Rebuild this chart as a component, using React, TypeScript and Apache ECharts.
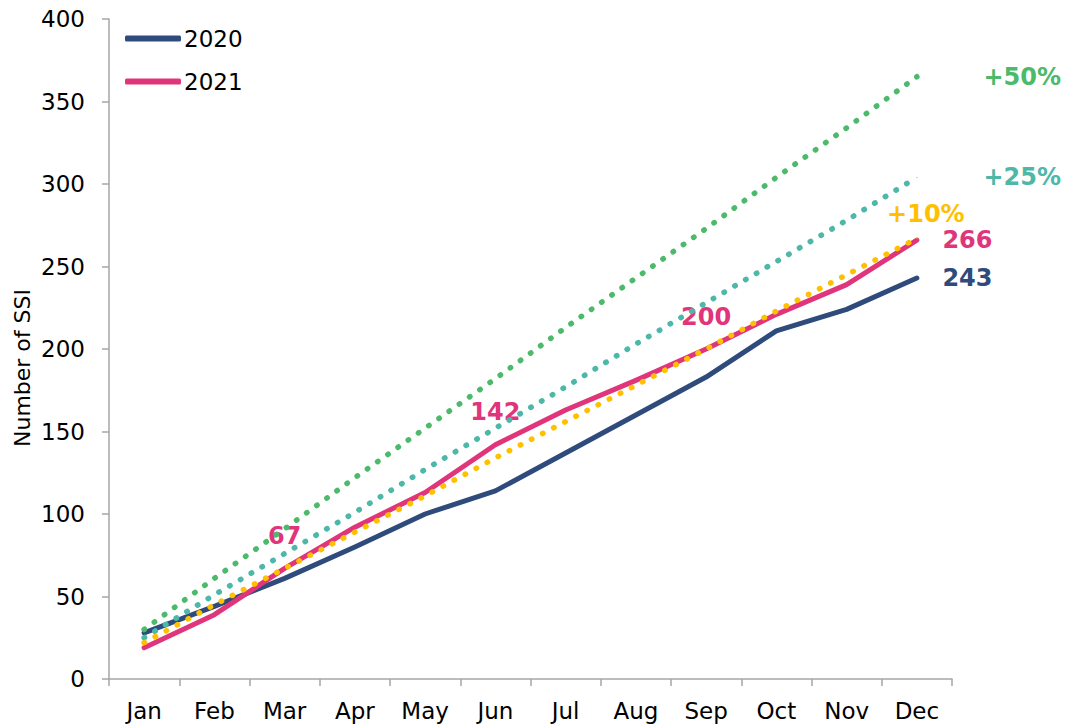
import React, { useEffect, useRef } from "react";
import * as echarts from "echarts";

// Months on the category axis
const months = ["Jan", "Feb", "Mar", "Apr", "May", "Jun", "Jul", "Aug", "Sep", "Oct", "Nov", "Dec"];

// Cumulative number of SSI per year
const ssi2020 = [28, 44, 61, 80, 100, 114, 137, 160, 183, 211, 224, 243];
const ssi2021 = [19, 39, 67, 92, 113, 142, 163, 181, 200, 221, 239, 266];

// Reference trajectories: 2020 year-end total +50%, +25% and +10%, spread evenly over the year
const plus50 = [30, 61, 91, 122, 152, 182, 213, 243, 273, 304, 334, 365];
const plus25 = [25, 51, 76, 101, 127, 152, 177, 203, 228, 253, 278, 304];
const plus10 = [22, 45, 67, 89, 111, 134, 156, 178, 200, 223, 245, 267];

// Y axis scale
const yMin = 0;
const yMax = 400;
const yStep = 50;

// Which 2021 months get a value label above the line
const labelled2021Top = [2, 5, 8];

const FONT = "DejaVu Sans";
const C2020 = "#2F4B7C";
const C2021 = "#E0357A";
const C50 = "#4CBA6A";
const C25 = "#4DB8A8";
const C10 = "#FFC000";

const boldLabel = (color: string) => ({
  color,
  fontFamily: FONT,
  fontWeight: "bold" as const,
  fontSize: 24,
});

const hidden = (v: number) => ({ value: v, symbol: "none" });

export default function App() {
  const ref = useRef<HTMLDivElement>(null);

  useEffect(() => {
    if (!ref.current) return;
    const chart = echarts.init(ref.current, undefined, { renderer: "svg" });
    const last = months.length - 1;

    const data2020 = ssi2020.map((v, i) =>
      i === last
        ? {
            value: v,
            symbol: "circle",
            symbolSize: 1,
            label: { show: true, position: "right", distance: 25, ...boldLabel(C2020) },
          }
        : hidden(v)
    );

    const data2021 = ssi2021.map((v, i) => {
      if (i === last) {
        return {
          value: v,
          symbol: "circle",
          symbolSize: 1,
          label: { show: true, position: "right", distance: 25, ...boldLabel(C2021) },
        };
      }
      if (labelled2021Top.includes(i)) {
        return {
          value: v,
          symbol: "circle",
          symbolSize: 1,
          label: { show: true, position: "top", distance: 20, ...boldLabel(C2021) },
        };
      }
      return hidden(v);
    });

    const trend = (arr: number[], text: string, color: string, labelPos: any) =>
      arr.map((v, i) =>
        i === last
          ? {
              value: v,
              symbol: "circle",
              symbolSize: 1,
              label: { show: true, formatter: text, ...labelPos, ...boldLabel(color) },
            }
          : hidden(v)
      );

    const dotted = (color: string) => ({
      color,
      width: 5.5,
      type: [0.5, 12],
      cap: "round" as const,
    });

    chart.setOption({
      animation: false,
      backgroundColor: "#ffffff",
      grid: { left: 109, top: 19, width: 843, height: 660, containLabel: false },
      legend: {
        data: ["2020", "2021"],
        orient: "vertical",
        left: 120,
        top: 22,
        itemWidth: 56,
        itemHeight: 6,
        itemGap: 20,
        icon: "roundRect",
        textStyle: { fontFamily: FONT, fontSize: 23, color: "#000", padding: [0, 0, 0, -2] },
      },
      xAxis: {
        type: "category",
        data: months,
        boundaryGap: true,
        axisLine: { show: true, lineStyle: { color: "#A6A6A6", width: 1.5 } },
        axisTick: { show: true, length: 7, alignWithLabel: false, lineStyle: { color: "#A6A6A6", width: 1.5 } },
        axisLabel: { fontFamily: FONT, fontSize: 23, color: "#000", margin: 20, interval: 0 },
        splitLine: { show: false },
      },
      yAxis: {
        type: "value",
        min: yMin,
        max: yMax,
        interval: yStep,
        axisLine: { show: true, lineStyle: { color: "#A6A6A6", width: 1.5 } },
        axisTick: { show: true, length: 7, lineStyle: { color: "#A6A6A6", width: 1.5 } },
        axisLabel: { fontFamily: FONT, fontSize: 23, color: "#000", margin: 24 },
        splitLine: { show: false },
      },
      graphic: [
        {
          type: "text",
          x: 22,
          y: 368,
          rotation: Math.PI / 2,
          style: {
            text: "Number of SSI",
            font: `22px "${FONT}"`,
            fill: "#000",
            textAlign: "center",
            textVerticalAlign: "middle",
          },
        },
      ],
      series: [
        {
          name: "2020",
          type: "line",
          data: data2020,
          color: C2020,
          lineStyle: { color: C2020, width: 5, cap: "round", join: "round" },
          itemStyle: { color: C2020 },
          z: 2,
        },
        {
          name: "2021",
          type: "line",
          data: data2021,
          color: C2021,
          lineStyle: { color: C2021, width: 5, cap: "round", join: "round" },
          itemStyle: { color: C2021 },
          z: 2,
        },
        {
          name: "+50%",
          type: "line",
          data: trend(plus50, "+50%", C50, { position: "right", distance: 66 }),
          lineStyle: dotted(C50),
          itemStyle: { color: C50 },
          z: 3,
        },
        {
          name: "+25%",
          type: "line",
          data: trend(plus25, "+25%", C25, { position: "right", distance: 66 }),
          lineStyle: dotted(C25),
          itemStyle: { color: C25 },
          z: 3,
        },
        {
          name: "+10%",
          type: "line",
          data: trend(plus10, "+10%", C10, { position: "top", distance: 12, offset: [9, 0] }),
          lineStyle: dotted(C10),
          itemStyle: { color: C10 },
          z: 3,
        },
      ],
    });

    return () => chart.dispose();
  }, []);

  return (
    <div
      ref={ref}
      style={{ position: "fixed", left: 0, top: 0, width: 1071, height: 726, background: "#fff" }}
    />
  );
}
